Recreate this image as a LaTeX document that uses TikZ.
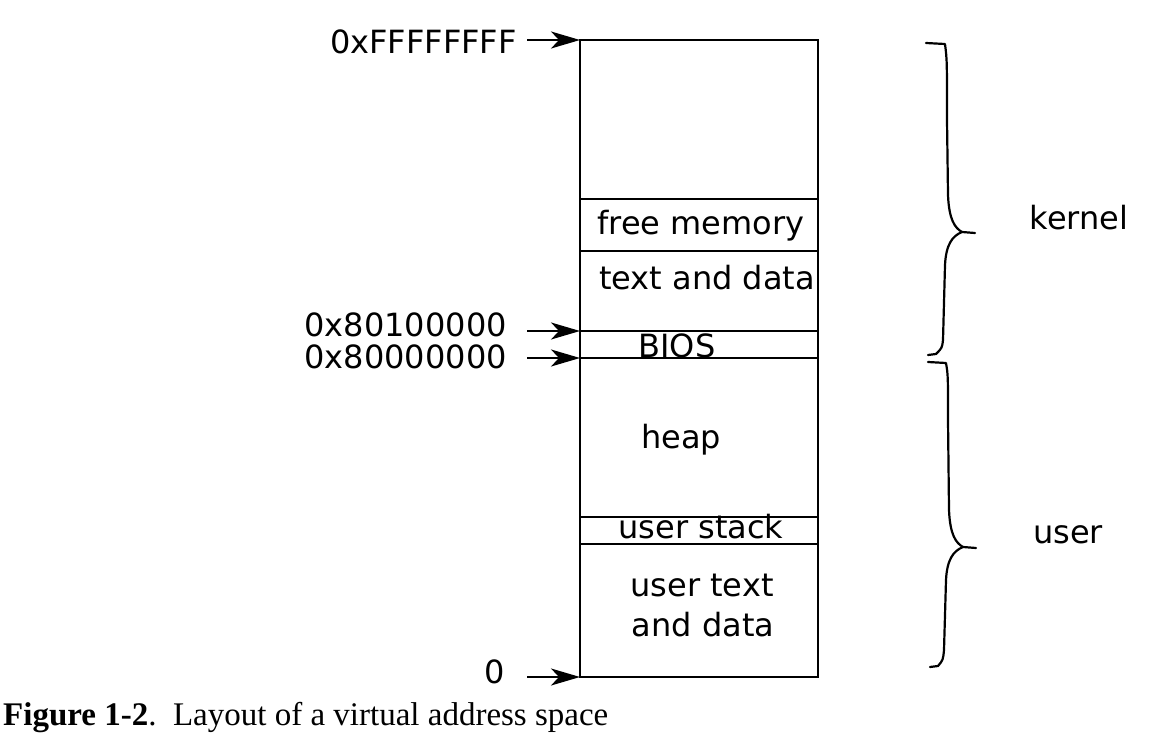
\documentclass[tikz,border=0pt]{standalone}
\usepackage{fontspec}
\setmainfont{DejaVu Sans}
\newfontfamily\capfont{Liberation Serif}
\usetikzlibrary{arrows.meta}
\begin{document}
\begin{tikzpicture}[x=1pt,y=-1pt,
  lbl/.style={font=\fontsize{32}{37}\selectfont, inner sep=0pt, text height=23.3pt, text depth=0pt},
  ptr/.style={line width=2.2pt, -{Stealth[length=29pt,width=17pt,inset=8pt]}},
  sep/.style={line width=1.5pt},
  brc/.style={line width=2.2pt, line cap=round, line join=round}]
\useasboundingbox (0,0) rectangle (1172,752);

% address-space column
\draw[line width=2.5pt] (580,40) coordinate (tl) rectangle (818,677) coordinate (br);
\foreach \y/\n in {199/a,251/b,331/c,358/d,517/e,544/f}
  \draw[sep] (580,\y) coordinate (L\n) -- (818,\y) coordinate (R\n);
\coordinate (top) at (580,40);
\coordinate (bot) at (580,677);

% region labels
\node[lbl] (free) at (701,223) {free memory};
\node[lbl] (ktext) at (707,278) {text and data};
\node[lbl] (bios) at (677,346) {BIOS};
\node[lbl] (heap) at (681,437) {heap};
\node[lbl] (ustack) at (701,527) {user stack};
\node[lbl] (utext1) at (702,585) {user text};
\node[lbl] (utext2) at (703,625) {and data};

% addresses with pointers
\node[lbl, anchor=east] (aF) at (517,42) {0xFFFFFFFF};
\node[lbl, anchor=east] (a801) at (507,325) {0x80100000};
\node[lbl, anchor=east] (a800) at (507,357) {0x80000000};
\node[lbl, anchor=east] (a0) at (505,672) {0};
\coordinate (pF) at (527,40);
\coordinate (p801) at (527,331);
\coordinate (p800) at (527,358);
\coordinate (p0) at (527,677);
\draw[ptr] (pF) -- (top);
\draw[ptr] (p801) -- (Lc);
\draw[ptr] (p800) -- (Ld);
\draw[ptr] (p0) -- (bot);

% kernel brace
\draw[brc] (926,43) -- (945,44) .. controls (947,60) .. (947,120)
  -- (948,195) .. controls (949,220) and (955,228) .. (962,232) -- (975,233);
\draw[brc] (962,232) .. controls (952,236) and (946,245) .. (945,265)
  -- (943,340) .. controls (942,348) .. (936,354) -- (928,355);
% user brace
\draw[brc] (928,362) -- (946,363) .. controls (948,375) .. (948,420)
  -- (949,510) .. controls (950,535) and (956,543) .. (963,547) -- (976,548);
\draw[brc] (963,547) .. controls (953,551) and (947,560) .. (946,580)
  -- (944,650) .. controls (943,660) .. (938,666) -- (930,667);

\node[lbl] (kernel) at (1079,218) {kernel};
\node[lbl] (user) at (1068,532) {user};

% caption
\node[anchor=base west, inner sep=0pt, font=\capfont\fontsize{33}{38}\selectfont] (cap) at (3,725)
  {\textbf{Figure 1-2}.\ \ Layout of a virtual address space};
\end{tikzpicture}
\end{document}
